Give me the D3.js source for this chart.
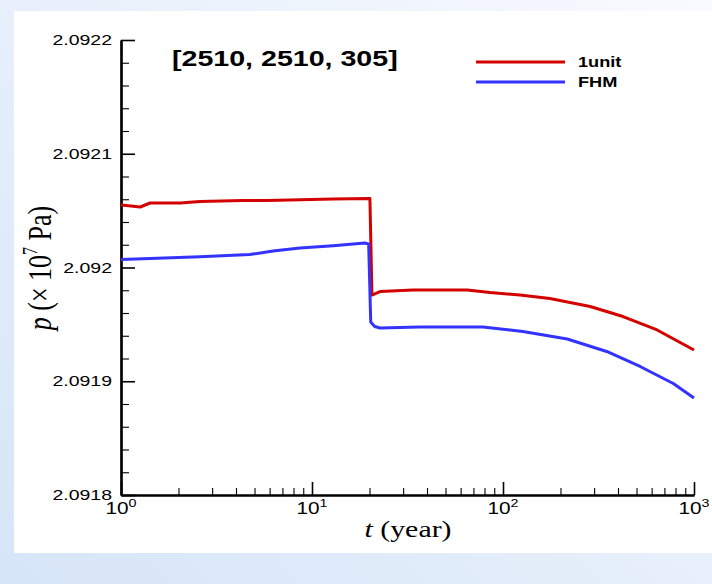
<!DOCTYPE html>
<html><head><meta charset="utf-8">
<script src="https://cdn.jsdelivr.net/npm/d3@7"></script>
<style>body{margin:0;padding:0;overflow:hidden}svg{display:block}</style>
</head><body>
<svg id="chart" width="712" height="584"></svg>
<script>
// ---- data ----
const seriesNames = ["1unit", "FHM"];
const seriesColors = ["#d40000", "#3333ff"];
const tUnit = [1, 1.13, 1.26, 1.42, 2.04, 2.59, 4.35, 5.82, 12.9, 20.1, 20.6, 22.7, 33.8, 64.9, 85.6, 122.6, 176, 286, 425, 641, 1000];
const pUnit = [2.0920549, 2.0920541, 2.0920532, 2.0920567, 2.0920567, 2.092058, 2.0920589, 2.0920589, 2.0920602, 2.0920607, 2.0919758, 2.0919789, 2.0919802, 2.0919802, 2.091978, 2.0919758, 2.0919728, 2.0919657, 2.0919569, 2.0919451, 2.0919275];
const tFHM = [1, 1.42, 2.59, 4.73, 6.25, 8.65, 12.9, 18.9, 19.8, 20.3, 21.3, 22.7, 36.7, 78.5, 127, 217, 349, 522, 779, 1000];
const pFHM = [2.092007, 2.0920079, 2.0920095, 2.0920114, 2.0920145, 2.0920171, 2.0920192, 2.0920215, 2.0920207, 2.0919521, 2.0919481, 2.0919468, 2.0919477, 2.0919477, 2.0919437, 2.0919371, 2.0919262, 2.091913, 2.091898, 2.0918853];
const yTicks = [2.0918, 2.0919, 2.092, 2.0921, 2.0922];
const yTickLabels = ["2.0918", "2.0919", "2.092", "2.0921", "2.0922"];
const xTicks = [1, 10, 100, 1000];
const xTickExp = ["0", "1", "2", "3"];
const titleText = "[2510, 2510, 305]";

// ---- layout ----
const SX = 1.3; // horizontal stretch of text in the reference
const svg = d3.select("#chart");
const defs = svg.append("defs");
const grad = defs.append("linearGradient").attr("id", "bg").attr("x1", "1").attr("y1", "0").attr("x2", "0").attr("y2", "1");
grad.append("stop").attr("offset", "0").attr("stop-color", "#f8fafe");
grad.append("stop").attr("offset", "1").attr("stop-color", "#d6e5f8");
svg.append("rect").attr("width", 712).attr("height", 584).attr("fill", "url(#bg)");
svg.append("rect").attr("x", 14).attr("y", 11).attr("width", 698).attr("height", 542).attr("fill", "#ffffff");

const x = d3.scaleLog().domain([1, 1000]).range([121, 694]);
const y = d3.scaleLinear().domain([2.0918, 2.0922]).range([495, 40]);

// minor ticks
const yMinor = d3.range(0, 21).map(i => 2.0918 + i * 0.00002).filter(v => !yTicks.some(t => Math.abs(t - v) < 1e-9));
const xMinor = [];
[1, 10, 100].forEach(d => { for (let k = 2; k <= 9; k++) xMinor.push(d * k); });

const axisStyle = g => {
  g.select(".domain").attr("stroke", "#000").attr("stroke-width", 2.2);
  g.selectAll(".tick line").attr("stroke", "#000").attr("stroke-width", 1.6);
};

svg.append("g").attr("transform", "translate(121,0)")
  .call(d3.axisLeft(y).tickValues(yMinor).tickSize(-8).tickSizeOuter(0).tickFormat(""))
  .call(axisStyle).call(g => g.selectAll(".tick line").attr("stroke-width", 1.1));
svg.append("g").attr("transform", "translate(121,0)")
  .call(d3.axisLeft(y).tickValues(yTicks).tickSize(-14).tickSizeOuter(0).tickFormat(""))
  .call(axisStyle);
svg.append("g").attr("transform", "translate(0,495)")
  .call(d3.axisBottom(x).tickValues(xMinor).tickSize(-7).tickSizeOuter(0).tickFormat(""))
  .call(axisStyle).call(g => g.selectAll(".tick line").attr("stroke-width", 1.1));
svg.append("g").attr("transform", "translate(0,495)")
  .call(d3.axisBottom(x).tickValues(xTicks).tickSize(-13).tickSizeOuter(0).tickFormat(""))
  .call(axisStyle);

const font = "'Liberation Sans', Arial, Helvetica, sans-serif";
const serif = "'Liberation Serif', 'Times New Roman', serif";

// y tick labels
yTicks.forEach((v, i) => {
  svg.append("g").attr("transform", `translate(112,${y(v) + 5}) scale(${SX},1)`)
    .append("text").attr("text-anchor", "end").attr("font-family", font).attr("font-size", 15)
    .attr("fill", "#000").text(yTickLabels[i]);
});
// x tick labels
xTicks.forEach((v, i) => {
  const t = svg.append("g").attr("transform", `translate(${x(v)},514) scale(${SX},1)`)
    .append("text").attr("text-anchor", "middle").attr("font-family", font).attr("font-size", 16).attr("fill", "#000");
  t.append("tspan").text("10");
  t.append("tspan").attr("font-size", 11).attr("dy", -7).text(xTickExp[i]);
});

// axis titles
const xt = svg.append("g").attr("transform", `translate(408,537) scale(${SX},1)`)
  .append("text").attr("text-anchor", "middle").attr("font-family", serif).attr("font-size", 23).attr("fill", "#000");
xt.append("tspan").attr("font-style", "italic").text("t");
xt.append("tspan").text(" (year)");

const yt = svg.append("g").attr("transform", `translate(51,268) scale(${SX},1) rotate(-90)`)
  .append("text").attr("text-anchor", "middle").attr("font-family", serif).attr("font-size", 26).attr("fill", "#000");
yt.append("tspan").attr("font-style", "italic").text("p");
yt.append("tspan").text(" (× 10");
yt.append("tspan").attr("font-size", 16).attr("dy", -11).text("7");
yt.append("tspan").attr("dy", 11).text(" Pa)");

// title
svg.append("g").attr("transform", `translate(172,66) scale(${SX},1)`)
  .append("text").attr("font-family", font).attr("font-weight", "bold").attr("font-size", 22).attr("fill", "#000")
  .text(titleText);

// lines
const line = d3.line().x(d => x(d[0])).y(d => y(d[1]));
const dataSets = [d3.zip(tUnit, pUnit), d3.zip(tFHM, pFHM)];
dataSets.forEach((ds, i) => {
  svg.append("path").datum(ds).attr("d", line).attr("fill", "none")
    .attr("stroke", seriesColors[i]).attr("stroke-width", 3).attr("stroke-linejoin", "round");
});

// legend
seriesNames.forEach((name, i) => {
  const ly = 62 + i * 20;
  svg.append("line").attr("x1", 476).attr("x2", 565).attr("y1", ly).attr("y2", ly)
    .attr("stroke", seriesColors[i]).attr("stroke-width", 3);
  svg.append("g").attr("transform", `translate(578,${ly + 5}) scale(${SX},1)`)
    .append("text").attr("font-family", font).attr("font-weight", "bold").attr("font-size", 14)
    .attr("fill", "#000").text(name);
});
</script>
</body></html>
